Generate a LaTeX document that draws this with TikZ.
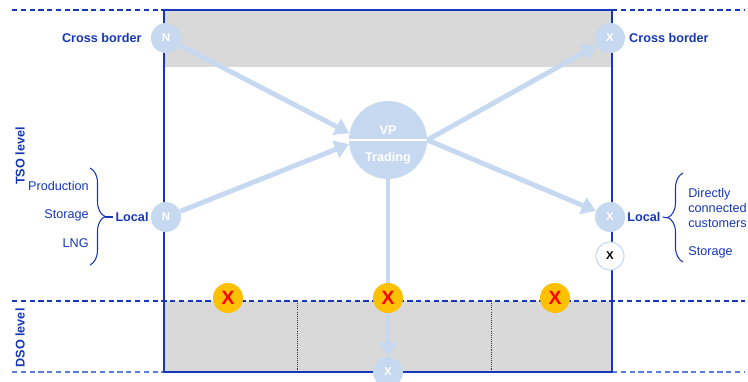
\documentclass[tikz,border=0pt]{standalone}
\usepackage{fontspec}
\setmainfont{Liberation Sans}
\usetikzlibrary{arrows.meta,positioning,decorations.pathreplacing}

\definecolor{tsoblue}{HTML}{1537B8}
\definecolor{tsolight}{HTML}{5B7FD8}
\definecolor{flowblue}{HTML}{C6D9F1}
\definecolor{boxgray}{HTML}{D9D9D9}
\definecolor{xorange}{HTML}{FFC000}

\tikzset{
    level/.style={tsoblue, line width=0.7pt, dash pattern=on 3pt off 2pt},
    divider/.style={tsoblue, line width=0.3pt, dash pattern=on 0.6pt off 0.6pt},
    point/.style={circle, fill=flowblue, text=white, inner sep=0pt, minimum size=0.6cm,
        font=\fontsize{6.5}{7}\selectfont\bfseries},
    exit/.style={circle, fill=white, draw=flowblue, line width=0.6pt, text=black, inner sep=0pt,
        minimum size=0.56cm, font=\fontsize{6.5}{7}\selectfont\bfseries},
    hub/.style={circle, fill=flowblue, inner sep=0pt, minimum size=1.56cm},
    hubtext/.style={text=white, inner sep=0pt, font=\fontsize{7.2}{8}\selectfont\bfseries},
    stop/.style={circle, fill=xorange, text=red, inner sep=0pt, minimum size=0.6cm,
        font=\fontsize{11}{12}\selectfont\bfseries},
    flow/.style={flowblue, line width=2.8pt, -{Triangle[width=10pt,length=8pt]}},
    lbl/.style={text=tsoblue, inner sep=1pt, font=\fontsize{7.2}{8}\selectfont\bfseries},
    src/.style={text=tsoblue, inner sep=0pt, font=\fontsize{7.2}{8.6}\selectfont},
    grp/.style={tsoblue, line width=0.6pt, decorate, decoration={brace, amplitude=0.3cm}},
}

\begin{document}
\begin{tikzpicture}[x=0.02cm, y=-0.02cm]
    \def\L{164}
    \def\R{612}
    \def\T{10}
    \def\B{372}
    \def\D{301}
    \useasboundingbox (0,0) rectangle (748,382);

    % grey zones
    \fill[boxgray] (\L,\T) rectangle (\R,67);
    \fill[boxgray] (\L,\D) rectangle (\R,\B);
    \draw[divider] (297,\D) -- (297,\B);
    \draw[divider] (491,\D) -- (491,\B);

    % levels
    \draw[level] (12,\T) -- (\L,\T);
    \draw[level] (\R,\T) -- (745,\T);
    \draw[level] (12,\D) -- (745,\D);
    \draw[level, tsolight] (12,\B) -- (\L,\B);
    \draw[level, tsolight] (\R,\B) -- (745,\B);
    \draw[tsoblue, line width=1.4pt] (\L,\T) rectangle (\R,\B);

    \node[lbl, rotate=90] (tso) at (20,156) {TSO level};
    \node[lbl, rotate=90] (dso) at (20,338) {DSO level};

    % entry and exit points
    \node[point] (ncross) at (\L+2,38) {N};
    \node[point] (xcross) at (\R-2,38) {X};
    \node[point] (nlocal) at (\L+2,217) {N};
    \node[point] (xlocal) at (\R-2,217) {X};
    \node[exit] (xexit) at (\R-2,256) {X};
    \node[point] (xdso) at (388,\B) {X};

    % virtual point
    \node[hub] (vp) at (388,140) {};
    \draw[white, line width=1.6pt] (vp.west) -- (vp.east);
    \node[hubtext] (vptext) at (388,130) {VP};
    \node[hubtext] (trading) at (388,158) {Trading};

    % flows
    \draw[flow] (ncross) -- (vp.170);
    \draw[flow] (nlocal) -- (vp.186);
    \draw[flow] (vp.east) -- (xcross);
    \draw[flow] (vp.east) -- (xlocal);
    \draw[flow] (vp.south) -- (xdso);

    % blocked
    \node[stop] (stopa) at (228,298) {X};
    \node[stop] (stopb) at (388,298) {X};
    \node[stop] (stopc) at (555,298) {X};

    % labels
    \node[lbl, left=4pt of ncross] (cbleft) {Cross border};
    \node[lbl, right=1pt of xcross] (cbright) {Cross border};
    \node[lbl, left=0pt of nlocal] (llocal) {Local};
    \node[lbl, right=0pt of xlocal] (rlocal) {Local};

    % left group
    \node[src, anchor=east] (prod) at (89,186) {Production};
    \node[src, anchor=east] (lstor) at (89,215) {Storage};
    \node[src, anchor=east] (lng) at (89,243) {LNG};
    \draw[grp] (90,168) -- (90,265);
    \coordinate (ltip) at (105,217);
    \draw[tsoblue, line width=0.6pt] (ltip) -- (llocal.west);

    % right group
    \node[src, anchor=west, align=left] (dcc) at (688,208) {Directly\\connected\\customers};
    \node[src, anchor=west] (rstor) at (688,252) {Storage};
    \draw[grp] (683,262) -- (683,173);
    \coordinate (rtip) at (668,218);
    \draw[tsoblue, line width=0.6pt] (rlocal.east) -- (rtip);
\end{tikzpicture}
\end{document}
